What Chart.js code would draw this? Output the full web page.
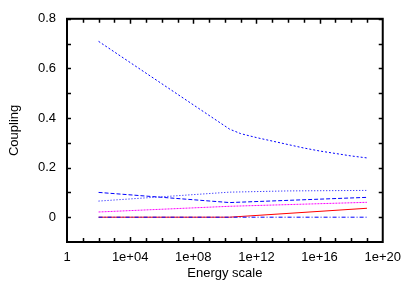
<!DOCTYPE html>
<html>
<head>
<meta charset="utf-8">
<script src="https://cdn.jsdelivr.net/npm/chart.js@4"></script>
<style>
html,body{margin:0;padding:0;background:#fff;}
canvas{display:block;}
</style>
</head>
<body>
<canvas id="c" width="409" height="286"></canvas>
<script>
// ---- data ----
const xTickValues = [1, 1e4, 1e8, 1e12, 1e16, 1e20];
const xTickLabels = ["1", "1e+04", "1e+08", "1e+12", "1e+16", "1e+20"];
const yTickValues = [0, 0.2, 0.4, 0.6, 0.8];
const yTickLabels = ["0", "0.2", "0.4", "0.6", "0.8"];

const scaleCoarse = [1e2, 2e10, 1e19];
const scaleFine = [1e2, 2e10, 1e11, 1e12, 1e13, 1e14, 1e15, 1e16, 1e17, 1e18, 1e19];
const scaleDotted = [1e2, 2e10, 1e14, 1e19];
const scaleFlat = [1e2, 1e19];

const couplingTop = [0.709, 0.355, 0.337, 0.321, 0.307, 0.293, 0.279, 0.267, 0.257, 0.247, 0.239];
const couplingDotted = [0.065, 0.101, 0.106, 0.108];
const couplingDashed = [0.100, 0.059, 0.080];
const couplingMagenta = [0.021, 0.044, 0.060];
const couplingRed = [0.000, 0.000, 0.036];
const couplingZero = [0.000, 0.000];

function pts(xs, ys) { return xs.map((x, i) => ({x: x, y: ys[i]})); }

Chart.defaults.font.family = "'Liberation Sans', Arial, Helvetica, sans-serif";
Chart.defaults.font.size = 13;
Chart.defaults.color = '#000';

const frame = {
  id: 'frame',
  afterDraw(chart) {
    const {ctx, chartArea: a, scales: {x, y}} = chart;
    ctx.save();
    ctx.strokeStyle = '#000';
    ctx.lineWidth = 2;
    ctx.strokeRect(a.left, a.top, a.right - a.left, a.bottom - a.top);
    ctx.lineWidth = 1.5;
    ctx.beginPath();
    for (let e = 1; e < 20; e++) {
      const px = Math.round(x.getPixelForValue(Math.pow(10, e))) + 0.5;
      const len = (e % 4 === 0) ? 5 : 4;
      ctx.moveTo(px, a.bottom); ctx.lineTo(px, a.bottom - len);
      ctx.moveTo(px, a.top); ctx.lineTo(px, a.top + len);
    }
    for (let k = 0; k < 9; k++) {
      const v = k / 10;
      const py = Math.round(y.getPixelForValue(v)) + 0.5;
      ctx.moveTo(a.left, py); ctx.lineTo(a.left + 4, py);
      ctx.moveTo(a.right, py); ctx.lineTo(a.right - 4, py);
    }
    ctx.stroke();
    ctx.restore();
  }
};

new Chart(document.getElementById('c'), {
  type: 'line',
  data: {
    datasets: [
      {data: pts(scaleFlat, couplingZero), borderColor: '#0000ff', borderDash: [4, 2, 1, 2]},
      {data: pts(scaleCoarse, couplingRed), borderColor: '#ff0000', borderDash: []},
      {data: pts(scaleCoarse, couplingMagenta), borderColor: '#ff00ff', borderDash: [2, 1]},
      {data: pts(scaleCoarse, couplingDashed), borderColor: '#0000ff', borderDash: [4, 2]},
      {data: pts(scaleDotted, couplingDotted), borderColor: '#0000ff', borderDash: [1, 2]},
      {data: pts(scaleFine, couplingTop), borderColor: '#0000ff', borderDash: [2, 2]}
    ]
  },
  options: {
    responsive: false,
    animation: false,
    events: [],
    layout: {padding: {top: 16, right: 25, left: 0, bottom: 0}},
    plugins: {legend: {display: false}, tooltip: {enabled: false}},
    elements: {
      line: {borderWidth: 1, tension: 0, fill: false},
      point: {radius: 0}
    },
    scales: {
      x: {
        type: 'logarithmic',
        min: 1, max: 1e20,
        grid: {display: false, drawTicks: false},
        border: {display: false},
        afterBuildTicks(s) { s.ticks = xTickValues.map(v => ({value: v})); },
        afterFit(s) { s.height = 44; },
        ticks: {
          autoSkip: false, maxRotation: 0, padding: 8,
          callback: (v, i) => xTickLabels[i]
        },
        title: {display: true, text: 'Energy scale', padding: {top: 0, bottom: 5}}
      },
      y: {
        type: 'linear',
        min: -0.1, max: 0.8,
        grid: {display: false, drawTicks: false},
        border: {display: false},
        afterBuildTicks(s) { s.ticks = yTickValues.map(v => ({value: v})); },
        afterFit(s) { s.width = 67; },
        ticks: {
          autoSkip: false, padding: 11,
          callback: (v, i) => yTickLabels[i]
        },
        title: {display: true, text: 'Coupling', padding: {top: 7, bottom: 0}}
      }
    }
  },
  plugins: [frame]
});
</script>
</body>
</html>
